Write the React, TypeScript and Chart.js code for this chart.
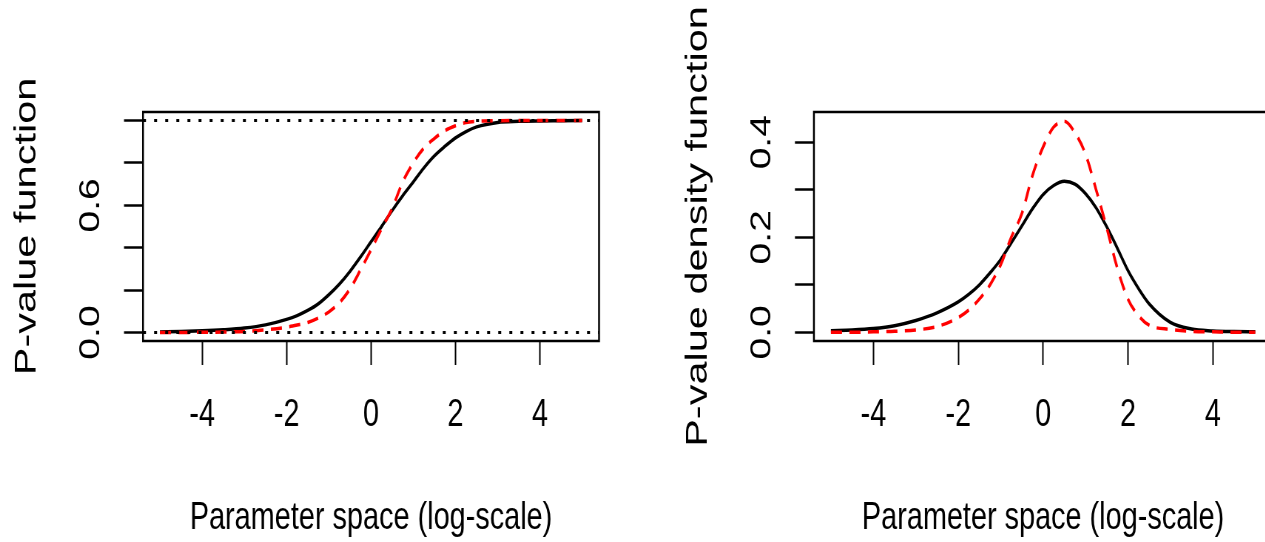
import React, { useEffect, useRef } from 'react';
import { Chart, registerables } from 'chart.js';

Chart.register(...registerables);

// ---------------- data ----------------
const xs = [-5, -4.5, -4, -3.5, -3, -2.5, -2, -1.75, -1.5, -1.25, -1, -0.75, -0.5, -0.25, 0, 0.25, 0.5, 0.75, 1, 1.25, 1.5, 1.75, 2, 2.25, 2.5, 3, 3.5, 4, 4.5, 5];
const pvBlack = [0.003, 0.005, 0.008, 0.013, 0.021, 0.036, 0.062, 0.08, 0.104, 0.135, 0.178, 0.228, 0.288, 0.356, 0.428, 0.5, 0.575, 0.645, 0.71, 0.776, 0.833, 0.878, 0.918, 0.948, 0.97, 0.991, 0.996, 0.998, 0.999, 1.0];
const pvRed = [0, 0, 0.001, 0.002, 0.005, 0.013, 0.025, 0.035, 0.047, 0.068, 0.097, 0.14, 0.205, 0.295, 0.39, 0.49, 0.585, 0.71, 0.8, 0.87, 0.915, 0.952, 0.975, 0.99, 0.996, 0.999, 1, 1, 1, 1];
const densBlack = [0.0035, 0.005, 0.008, 0.014, 0.025, 0.041, 0.064, 0.08, 0.1, 0.125, 0.153, 0.188, 0.224, 0.26, 0.29, 0.309, 0.318, 0.312, 0.292, 0.262, 0.222, 0.177, 0.13, 0.092, 0.06, 0.021, 0.007, 0.003, 0.0015, 0.001];
const densRed = [0, 0, 0.001, 0.002, 0.005, 0.012, 0.031, 0.047, 0.07, 0.1, 0.142, 0.2, 0.25, 0.33, 0.39, 0.432, 0.444, 0.42, 0.375, 0.3, 0.22, 0.135, 0.07, 0.035, 0.015, 0.006, 0.002, 0.001, 0, 0];

const xTicks = [-4, -2, 0, 2, 4];
const xTickLabels = ['-4', '-2', '0', '2', '4'];
const pvYTicks = [0, 0.2, 0.4, 0.6, 0.8, 1.0];
const pvYLabels = ['0.0', '', '', '0.6', '', ''];
const densYTicks = [0, 0.1, 0.2, 0.3, 0.4];
const densYLabels = ['0.0', '', '0.2', '', '0.4'];
const refLines = [0, 1];

const xRange = [-5.4, 5.4];
const pvRange = [-0.04, 1.04];
const densRange = [-0.0183, 0.4637];

const xTitle = 'Parameter space (log-scale)';
const pvTitle = 'P-value function';
const densTitle = 'P-value density function';

// ---------------- layout / style ----------------
const SX = 0.74; // horizontal squeeze of the reference picture
const H = 542;
const BOX_TOP = 112;
const BOX_BOTTOM = 341;
const FONT_FAMILY = "'Liberation Sans', Arial, Helvetica, sans-serif";
const TICK_SIZE = 39;
const X_TITLE_SIZE = 39;
const Y_TITLE_SIZE = 41.5;
const X_TICK_LEN = 24;
const Y_TICK_LEN_DISPLAY = 19;
const X_TICK_PAD = 27;
const LINE_W = 3.5;

type Panel = {
  canvasLeft: number;
  canvasWidth: number;
  boxLeft: number;
  boxRight: number;
  yTitleCenter: number;
  yLabelCenter: number;
};

const leftPanel: Panel = { canvasLeft: 0, canvasWidth: 632, boxLeft: 143, boxRight: 599, yTitleCenter: 27, yLabelCenter: 91.5 };
const rightPanel: Panel = { canvasLeft: 632, canvasWidth: 645, boxLeft: 814, boxRight: 1272.5, yTitleCenter: 698, yLabelCenter: 762.5 };

const boxPlugin = {
  id: 'rbox',
  afterDraw(chart: any) {
    const { ctx, chartArea: a } = chart;
    ctx.save();
    ctx.strokeStyle = '#000';
    ctx.lineWidth = 2.5;
    ctx.strokeRect(a.left, a.top, a.right - a.left, a.bottom - a.top);
    ctx.restore();
  },
};

function measure(text: string, size: number) {
  const c = document.createElement('canvas');
  const ctx = c.getContext('2d')!;
  ctx.font = `${size}px ${FONT_FAMILY}`;
  return ctx.measureText(text).width;
}

function buildChart(canvas: HTMLCanvasElement, panel: Panel, kind: 'pv' | 'dens') {
  const iw = Math.round(panel.canvasWidth / SX);
  const chartLeft = (panel.boxLeft - panel.canvasLeft) / SX;
  const chartRight = (panel.boxRight - panel.canvasLeft) / SX;
  const titleLine = Y_TITLE_SIZE * 1.2;
  const padL = (panel.yTitleCenter - panel.canvasLeft) / SX - titleLine / 2;
  const padR = iw - chartRight;
  const yTickLen = Y_TICK_LEN_DISPLAY / SX;
  const yLabels = kind === 'pv' ? pvYLabels : densYLabels;
  const yTicks = kind === 'pv' ? pvYTicks : densYTicks;
  const widest = Math.max(...yLabels.map((l) => measure(l, TICK_SIZE)));
  const yPad = (panel.boxLeft - panel.yLabelCenter) / SX - yTickLen - widest / 2;

  const tickFont = { family: FONT_FAMILY, size: TICK_SIZE };

  const blackVals = kind === 'pv' ? pvBlack : densBlack;
  const redVals = kind === 'pv' ? pvRed : densRed;

  const datasets: any[] = [
    {
      data: xs.map((x, i) => ({ x, y: blackVals[i] })),
      borderColor: '#000000',
      borderWidth: LINE_W,
      pointRadius: 0,
      cubicInterpolationMode: 'monotone',
      order: 2,
    },
    {
      data: xs.map((x, i) => ({ x, y: redVals[i] })),
      borderColor: '#ff0000',
      borderWidth: LINE_W,
      borderDash: [15, 10],
      pointRadius: 0,
      cubicInterpolationMode: 'monotone',
      order: 1,
    },
  ];
  if (kind === 'pv') {
    refLines.forEach((v) => {
      datasets.push({
        data: xRange.map((x) => ({ x, y: v })),
        borderColor: '#000000',
        borderWidth: 3,
        borderDash: [4, 11],
        pointRadius: 0,
        order: 0,
      });
    });
  }

  canvas.width = iw;
  canvas.height = H;

  return new Chart(canvas, {
    type: 'line',
    data: { datasets },
    plugins: [boxPlugin],
    options: {
      responsive: false,
      maintainAspectRatio: false,
      animation: false,
      devicePixelRatio: 1,
      events: [],
      layout: { padding: { left: padL, right: padR, top: BOX_TOP, bottom: 0 } },
      plugins: { legend: { display: false }, tooltip: { enabled: false } },
      scales: {
        x: {
          type: 'linear',
          min: xRange[0],
          max: xRange[1],
          afterBuildTicks: (s: any) => {
            s.ticks = xTicks.map((v) => ({ value: v }));
          },
          afterFit: (s: any) => {
            s.height = H - BOX_BOTTOM;
          },
          grid: { display: true, drawOnChartArea: false, drawTicks: true, tickLength: X_TICK_LEN, tickWidth: 2, tickColor: '#000' },
          border: { display: false },
          ticks: {
            autoSkip: false,
            maxRotation: 0,
            minRotation: 0,
            padding: X_TICK_PAD,
            color: '#000',
            font: tickFont,
            callback: (v: any) => xTickLabels[xTicks.indexOf(Number(v))] ?? '',
          },
          title: { display: true, text: xTitle, color: '#000', font: { family: FONT_FAMILY, size: X_TITLE_SIZE }, padding: { top: 0, bottom: 0 } },
        },
        y: {
          type: 'linear',
          min: kind === 'pv' ? pvRange[0] : densRange[0],
          max: kind === 'pv' ? pvRange[1] : densRange[1],
          afterBuildTicks: (s: any) => {
            s.ticks = yTicks.map((v) => ({ value: v }));
          },
          afterFit: (s: any) => {
            s.width = chartLeft - padL;
          },
          grid: { display: true, drawOnChartArea: false, drawTicks: true, tickLength: yTickLen, tickWidth: 2.5, tickColor: '#000' },
          border: { display: false },
          ticks: {
            autoSkip: false,
            minRotation: 90,
            maxRotation: 90,
            crossAlign: 'center',
            padding: yPad,
            color: '#000',
            font: tickFont,
            callback: (v: any) => {
              const idx = yTicks.findIndex((t) => Math.abs(t - Number(v)) < 1e-9);
              return idx >= 0 ? yLabels[idx] : '';
            },
          },
          title: {
            display: true,
            text: kind === 'pv' ? pvTitle : densTitle,
            color: '#000',
            font: { family: FONT_FAMILY, size: Y_TITLE_SIZE },
            padding: { top: 0, bottom: 0 },
          },
        },
      },
    } as any,
  });
}

function PanelCanvas({ panel, kind }: { panel: Panel; kind: 'pv' | 'dens' }) {
  const ref = useRef<HTMLCanvasElement | null>(null);
  useEffect(() => {
    if (!ref.current) return;
    const chart = buildChart(ref.current, panel, kind);
    return () => chart.destroy();
  }, [panel, kind]);
  return (
    <canvas
      ref={ref}
      style={{
        position: 'absolute',
        left: panel.canvasLeft,
        top: 0,
        width: panel.canvasWidth + 'px',
        height: H + 'px',
      }}
    />
  );
}

export default function App() {
  return (
    <div
      style={{
        position: 'absolute',
        left: 0,
        top: 0,
        width: 1265,
        height: H,
        overflow: 'hidden',
        background: '#ffffff',
      }}
    >
      <PanelCanvas panel={leftPanel} kind="pv" />
      <PanelCanvas panel={rightPanel} kind="dens" />
    </div>
  );
}
